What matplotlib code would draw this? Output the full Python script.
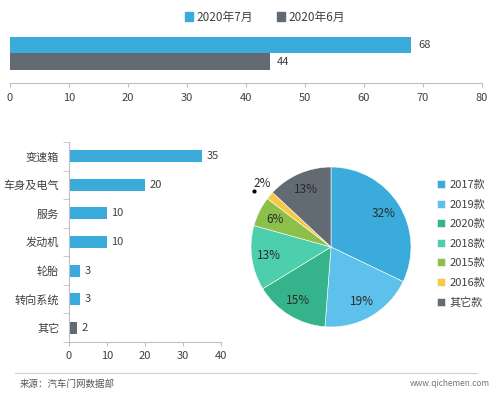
import matplotlib
matplotlib.use('Agg')
import matplotlib.pyplot as plt
from matplotlib.patches import Patch
import numpy as np

plt.rcParams['font.family'] = ['Noto Sans CJK SC', 'DejaVu Sans']
plt.rcParams['font.size'] = 8

# 数据
months = ['2020年7月', '2020年6月']
month_totals = [68, 44]

parts = ['变速箱', '车身及电气', '服务', '发动机', '轮胎', '转向系统', '其它']
part_counts = [35, 20, 10, 10, 3, 3, 2]

years = ['2017款', '2019款', '2020款', '2018款', '2015款', '2016款', '其它款']
year_share = [32, 19, 15, 13, 6, 1.6, 13]

blue = '#3aabdb'
grey = '#626a74'
pie_colors = ['#3aabdb', '#5ec1ec', '#35b38b', '#4dcfae', '#8cc04a', '#f6c945', '#626a74']
txt = '#404040'

W, H = 499, 393
fig = plt.figure(figsize=(W / 100, H / 100), dpi=100)


def px_axes(x0, y0, x1, y1):
    return fig.add_axes([x0 / W, 1 - y1 / H, (x1 - x0) / W, (y1 - y0) / H])


# 上方：月度对比
ax1 = px_axes(10, 30, 482, 83)
ypos = [1, 0]
ax1.barh(ypos, month_totals, height=1.0, color=[blue, grey])
for y, v in zip(ypos, month_totals):
    ax1.text(v + 1.2, y, str(v), va='center', ha='left', color=txt, fontsize=8)
ax1.set_xlim(0, 80)
ax1.set_ylim(-1.3, 1.91)
ax1.set_xticks(range(0, 81, 10))
ax1.set_yticks([])
for s in ['left', 'top', 'right']:
    ax1.spines[s].set_visible(False)
ax1.spines['bottom'].set_color('#bfbfbf')
ax1.tick_params(axis='x', colors='#bfbfbf', labelcolor=txt, length=3, pad=4)

handles = [Patch(color=blue), Patch(color=grey)]
fig.legend(handles, months, loc='upper center', bbox_to_anchor=(265 / W, 1.0),
           ncol=2, frameon=False, handlelength=0.7, handleheight=0.7,
           handletextpad=0.3, columnspacing=2.0, fontsize=8.5, labelcolor=txt)

# 左下：故障部位
ax2 = px_axes(69, 142, 221, 342)
yy = np.arange(len(parts))
bar_cols = [blue] * (len(parts) - 1) + [grey]
ax2.barh(yy, part_counts, height=0.42, color=bar_cols)
for y, v in zip(yy, part_counts):
    ax2.text(v + 1.2, y, str(v), va='center', ha='left', color=txt, fontsize=8)
ax2.set_xlim(0, 40)
ax2.set_ylim(len(parts) - 0.5, -0.5)
ax2.set_yticks(yy)
ax2.set_yticklabels(parts)
ax2.set_yticks(np.arange(-0.5, len(parts)), minor=True)
ax2.set_xticks(range(0, 41, 10))
for s in ['top', 'right']:
    ax2.spines[s].set_visible(False)
ax2.spines['bottom'].set_color('#bfbfbf')
ax2.spines['left'].set_color('#bfbfbf')
ax2.tick_params(axis='y', which='major', length=0, pad=7, labelcolor=txt)
ax2.tick_params(axis='y', which='minor', length=4, color='#bfbfbf')
ax2.tick_params(axis='x', colors='#bfbfbf', labelcolor=txt, length=3)

# 右下：车型年款
ax3 = px_axes(251, 167, 411, 327)

wedges = ax3.pie(year_share, colors=pie_colors, startangle=90, counterclock=False,
                 radius=1, wedgeprops=dict(linewidth=0.4, edgecolor='white'))[0]
total = sum(year_share)
start = 90.0
for i, v in enumerate(year_share):
    mid = np.deg2rad(start - v / total * 360 / 2)
    start -= v / total * 360
    pct = round(v / total * 100)
    if v >= 3:
        ax3.text(0.78 * np.cos(mid), 0.78 * np.sin(mid), f'{pct}%', ha='center', va='center',
                 color='#2b2b2b', fontsize=8.5)
    else:
        ax3.plot(1.19 * np.cos(mid) - 0.05, 1.19 * np.sin(mid) - 0.07, 'o', color='black', ms=2)
        ax3.text(1.19 * np.cos(mid) + 0.05, 1.19 * np.sin(mid) + 0.03, f'{max(pct, 2)}%',
                 ha='center', va='center', color='#2b2b2b', fontsize=8.5)
ax3.set_xlim(-1, 1)
ax3.set_ylim(-1, 1)
ax3.set_aspect('equal')
ax3.axis('off')

fig.legend(wedges, years, loc='upper left', bbox_to_anchor=(427 / W, 1 - 170 / H),
           frameon=False, handlelength=0.7, handleheight=0.7, handletextpad=0.4,
           labelspacing=0.85, fontsize=8, labelcolor=txt)

# 底部来源
fig.add_artist(plt.Line2D([15 / W, 477 / W], [1 - 373 / H, 1 - 373 / H], color='#d0d0d0', lw=0.8))
fig.text(20 / W, 1 - 384 / H, '来源：汽车门网数据部', fontsize=6.8, color='#555555', va='center', ha='left')
fig.text(490 / W, 1 - 384 / H, 'www.qichemen.com', fontsize=6, color='#777777', va='center', ha='right')

fig.savefig('out.png', dpi=100)
